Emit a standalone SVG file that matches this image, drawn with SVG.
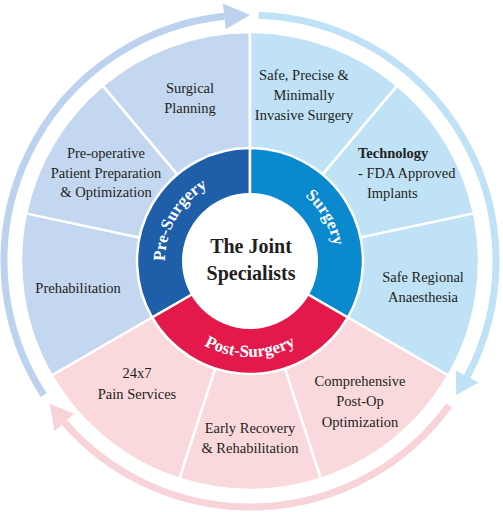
<svg xmlns="http://www.w3.org/2000/svg" width="503" height="512" viewBox="0 0 503 512">
<style>
.t{font-family:"Liberation Serif","DejaVu Serif",serif;font-size:14.5px;fill:#231f20;text-anchor:middle}
.b{font-weight:bold}
.rl{font-family:"Liberation Serif","DejaVu Serif",serif;font-size:17px;font-weight:bold;fill:#ffffff;text-anchor:middle}
.seg{stroke:#ffffff;stroke-width:2.5;stroke-linejoin:round}
.pre{fill:#c4d7f0}
.sur{fill:#bfe2f7}
.pos{fill:#fad9dc}
.band{fill:none;stroke-width:7}
</style>
<defs>
<path id="pPre" d="M176.4 303.5 A85 85 0 0 1 250 176"/>
<path id="pSur" d="M250 176 A85 85 0 0 1 323.6 303.5"/>
<path id="pPos" d="M166.9 309 A96 96 0 0 0 333.1 309"/>
</defs>
<rect width="503" height="512" fill="#ffffff"/>
<g id="connectors">
<path class="band" stroke="#bcd2ee" d="M43.69 394.98 A246 246 0 0 1 224.29 16.35"/>
<polygon fill="#bcd2ee" points="225.64,29.28 222.93,3.42 250,15"/>
<path class="band" stroke="#bfe2f7" d="M258.59 15.15 A246 246 0 0 1 467.21 376.49"/>
<polygon fill="#bfe2f7" points="455.73,370.39 478.68,382.59 456.31,394.98"/>
<path class="band" stroke="#f8d3d7" d="M449.02 405.6 A246 246 0 0 1 64.34 422.39"/>
<polygon fill="#f8d3d7" points="74.15,413.86 54.53,430.92 49.73,403.85"/>
</g>
<g id="prehabilitation">
<path class="seg pre" d="M250 261 L51.68 375.5 A229 229 0 0 1 26.01 213.39 Z"/>
<text class="t" x="78" y="293">Prehabilitation</text>
</g>
<g id="preoperative">
<path class="seg pre" d="M250 261 L26.01 213.39 A229 229 0 0 1 102.8 85.58 Z"/>
<text class="t" x="106" y="158">Pre-operative</text>
<text class="t" x="106" y="177.5">Patient Preparation</text>
<text class="t" x="106" y="197">&amp; Optimization</text>
</g>
<g id="surgical-planning">
<path class="seg pre" d="M250 261 L102.8 85.58 A229 229 0 0 1 250 32 Z"/>
<text class="t" x="190" y="93">Surgical</text>
<text class="t" x="190" y="113">Planning</text>
</g>
<g id="safe-precise">
<path class="seg sur" d="M250 261 L250 32 A229 229 0 0 1 397.2 85.58 Z"/>
<text class="t" x="304" y="80">Safe, Precise &amp;</text>
<text class="t" x="304" y="100">Minimally</text>
<text class="t" x="304" y="120">Invasive Surgery</text>
</g>
<g id="technology">
<path class="seg sur" d="M250 261 L397.2 85.58 A229 229 0 0 1 473.99 213.39 Z"/>
<text class="t b" x="358" y="158" style="text-anchor:start">Technology</text>
<text class="t" x="358" y="178" style="text-anchor:start">- FDA Approved</text>
<text class="t" x="367" y="198" style="text-anchor:start">Implants</text>
</g>
<g id="safe-regional">
<path class="seg sur" d="M250 261 L473.99 213.39 A229 229 0 0 1 448.32 375.5 Z"/>
<text class="t" x="423" y="282">Safe Regional</text>
<text class="t" x="423" y="302">Anaesthesia</text>
</g>
<g id="comprehensive">
<path class="seg pos" d="M250 261 L448.32 375.5 A229 229 0 0 1 320.76 478.79 Z"/>
<text class="t" x="360" y="386">Comprehensive</text>
<text class="t" x="360" y="406">Post-Op</text>
<text class="t" x="360" y="427">Optimization</text>
</g>
<g id="early-recovery">
<path class="seg pos" d="M250 261 L320.76 478.79 A229 229 0 0 1 179.24 478.79 Z"/>
<text class="t" x="250" y="433">Early Recovery</text>
<text class="t" x="250" y="453">&amp; Rehabilitation</text>
</g>
<g id="pain-services">
<path class="seg pos" d="M250 261 L179.24 478.79 A229 229 0 0 1 51.68 375.5 Z"/>
<text class="t" x="137" y="378">24x7</text>
<text class="t" x="137" y="399">Pain Services</text>
</g>
<g id="pre-surgery">
<path class="seg" fill="#1f5ea8" d="M250 261 L152.14 317.5 A113 113 0 0 1 250 148 Z"/>
<text class="rl"><textPath href="#pPre" startOffset="50%">Pre-Surgery</textPath></text>
</g>
<g id="surgery">
<path class="seg" fill="#0a89cf" d="M250 261 L250 148 A113 113 0 0 1 347.86 317.5 Z"/>
<text class="rl"><textPath href="#pSur" startOffset="50%">Surgery</textPath></text>
</g>
<g id="post-surgery">
<path class="seg" fill="#e4194b" d="M250 261 L347.86 317.5 A113 113 0 0 1 152.14 317.5 Z"/>
<text class="rl"><textPath href="#pPos" startOffset="50%">Post-Surgery</textPath></text>
</g>
<g id="center">
<circle cx="250" cy="261" r="68" fill="#ffffff"/>
<text class="t b" x="251" y="253" style="font-size:20px">The Joint</text>
<text class="t b" x="251" y="280" style="font-size:20px">Specialists</text>
</g>
</svg>
